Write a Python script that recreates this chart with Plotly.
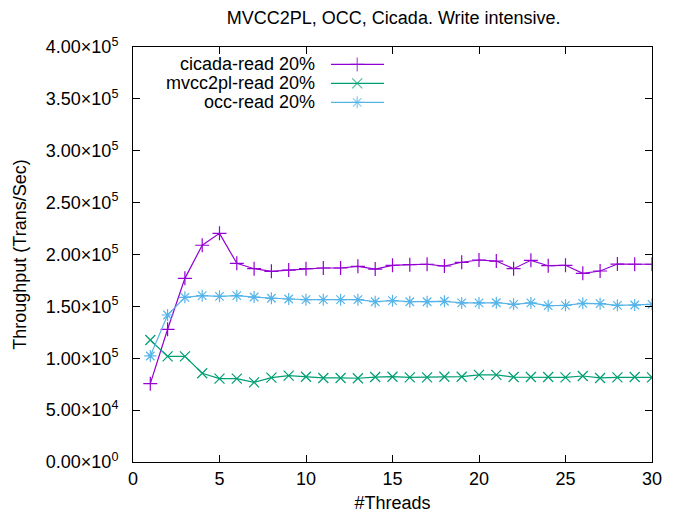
import plotly.graph_objects as go

threads = list(range(1, 31))
cicada = [75500, 127900, 177000, 208900, 220400, 191500, 186300, 183800, 185000, 186300,
          187000, 187000, 188600, 186000, 189600, 190200, 190600, 188900, 192500, 194700,
          193700, 186300, 194400, 189200, 189600, 181900, 184100, 190800, 190600, 190600]
mvcc2pl = [117600, 101800, 101800, 85500, 80300, 80300, 76800, 81300, 83200, 82200,
           81000, 81000, 80700, 81900, 82200, 81600, 81600, 82200, 82200, 83900,
           83900, 81900, 81900, 81900, 81600, 82900, 81000, 81600, 81900, 81600]
occ = [102200, 141700, 158700, 160300, 159700, 160300, 159000, 157800, 157100, 156500,
       156500, 156500, 156500, 154500, 155500, 154500, 154500, 154900, 153300, 153300,
       153500, 152000, 153300, 150700, 151000, 152900, 152600, 151000, 151300, 152000]

names = ["cicada-read 20%", "mvcc2pl-read 20%", "occ-read 20%"]
colors = ["#9400d3", "#009e73", "#56b4e9"]
symbols = ["cross-thin-open", "x-thin-open", "asterisk-open"]
series = [cicada, mvcc2pl, occ]

y_ticks = [0, 50000, 100000, 150000, 200000, 250000, 300000, 350000, 400000]
y_ticktext = ["0.00×10<sup>0</sup>", "5.00×10<sup>4</sup>", "1.00×10<sup>5</sup>",
              "1.50×10<sup>5</sup>", "2.00×10<sup>5</sup>", "2.50×10<sup>5</sup>",
              "3.00×10<sup>5</sup>", "3.50×10<sup>5</sup>", "4.00×10<sup>5</sup>"]
x_ticks = [0, 5, 10, 15, 20, 25, 30]

FONT = "Liberation Sans, Arial, sans-serif"
FS = 18

fig = go.Figure()
for name, vals, c, s in zip(names, series, colors, symbols):
    fig.add_trace(go.Scatter(
        x=threads, y=vals, mode="lines+markers", name=name,
        line=dict(color=c, width=1.2),
        marker=dict(symbol=s, size=10, color=c, line=dict(color=c, width=1.2)),
        showlegend=False,
    ))

# custom gnuplot-style legend (text right-aligned, sample on the right)
leg_rows = [0.958, 0.9125, 0.8667]
for name, c, s, yr in zip(names, colors, symbols, leg_rows):
    fig.add_trace(go.Scatter(
        x=[0.3815, 0.432, 0.4836], y=[yr, yr, yr], xaxis="x2", yaxis="y2",
        mode="lines+markers", line=dict(color=c, width=1.2),
        marker=dict(symbol=s, size=[0, 10, 0], color=c, line=dict(color=c, width=1.2)),
        showlegend=False, hoverinfo="skip",
    ))
    fig.add_annotation(x=0.3545, y=yr, xref="x2", yref="y2", text=name,
                       showarrow=False, xanchor="right", yanchor="middle",
                       font=dict(family=FONT, size=FS, color="black"))

axis_common = dict(
    showgrid=False, zeroline=False, showline=True, linecolor="black", linewidth=1,
    mirror="ticks", ticks="inside", ticklen=7, tickcolor="black", tickwidth=1,
    tickfont=dict(family=FONT, size=FS, color="black"), automargin=False,
)

# page body has an 8px default margin, so the figure is offset by 8px
fig.update_layout(
    width=672, height=507,
    margin=dict(l=125, r=28, t=39, b=53),
    paper_bgcolor="white", plot_bgcolor="white",
    title=dict(text="MVCC2PL, OCC, Cicada. Write intensive.", x=0.574, y=0.980,
               xanchor="center", yanchor="middle",
               font=dict(family=FONT, size=FS, color="black")),
    xaxis=dict(range=[0, 30], tickvals=x_ticks, ticklabelstandoff=0,
               title=dict(text="#Threads", font=dict(family=FONT, size=FS, color="black"),
                          standoff=8),
               **axis_common),
    yaxis=dict(range=[0, 400000], tickvals=y_ticks, ticktext=y_ticktext,
               ticklabelstandoff=10,
               title=dict(text="Throughput (Trans/Sec)",
                          font=dict(family=FONT, size=FS, color="black"), standoff=14),
               **axis_common),
    xaxis2=dict(range=[0, 1], overlaying="x", visible=False, domain=[0, 1]),
    yaxis2=dict(range=[0, 1], overlaying="y", visible=False),
)

fig.write_html("out.html")
